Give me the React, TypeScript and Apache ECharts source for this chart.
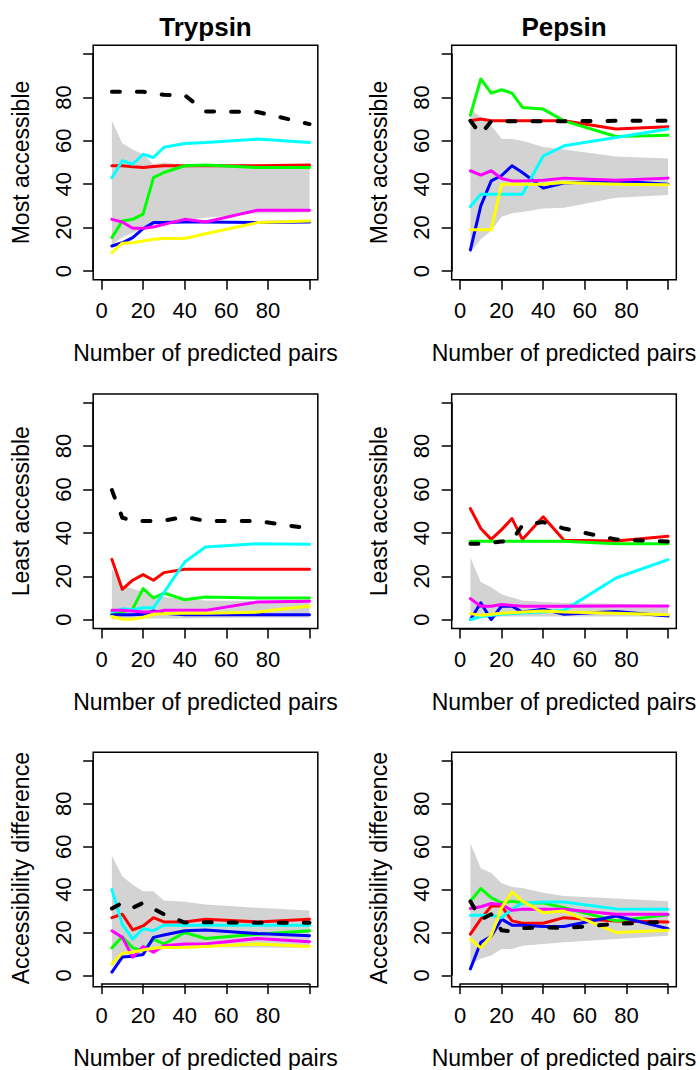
import React, { useEffect, useRef } from "react";
import * as echarts from "echarts";

// x positions (number of predicted pairs)
const X = [5, 10, 15, 20, 25, 30, 40, 50, 75, 100];
const X_TICKS = [0, 20, 40, 60, 80, 100];
const Y_TICKS = [0, 20, 40, 60, 80, 100];

// Trypsin – Most accessible
const tMostRed = [48.5, 48.5, 48, 47.7, 48.2, 48.5, 48.5, 48.5, 48.5, 48.8];
const tMostGreen = [15.4, 23, 23.8, 26.2, 43, 45.4, 48.5, 48.8, 47.7, 47.7];
const tMostBlue = [11.5, 13, 15.4, 19.5, 22.3, 22.3, 22.6, 22.6, 22.3, 22.6];
const tMostCyan = [43, 50.8, 49.2, 53.8, 52.3, 57, 58.8, 59.2, 60.8, 59.2];
const tMostMagenta = [23.8, 22.6, 19.7, 19.7, 20.3, 21.5, 23.8, 22.6, 28, 28];
const tMostYellow = [8.5, 12.8, 13, 13.8, 14.6, 15, 15, 17.2, 22.3, 23];
const tMostRandom = [82.6, 82.6, 82.6, 82.6, 82, 81.2, 81, 73.5, 73.3, 67.7];
const tMostBandHi = [69.2, 58.9, 56, 53.8, 49.2, 50, 48.8, 48.3, 48, 48];
const tMostBandLo = [12, 15.5, 17.5, 19.5, 21, 22, 23.5, 24.5, 26.5, 27];

// Pepsin – Most accessible
const pMostRed = [69.2, 70, 69.2, 69.2, 69.2, 69.2, 69.2, 69.2, 65.4, 66.5];
const pMostGreen = [71.8, 88.5, 82, 83.5, 82, 75.4, 74.6, 69.2, 62, 62.6];
const pMostBlue = [9.7, 30, 41.5, 44, 48.5, 45.4, 38.2, 40.5, 41.5, 40];
const pMostCyan = [29.7, 35.4, 35.4, 35.4, 35.4, 35.4, 53, 57.7, 61.5, 65.4];
const pMostMagenta = [46.2, 44.2, 46.2, 42.6, 41.5, 41.5, 41.8, 42.8, 41.8, 42.8];
const pMostYellow = [19, 19, 19, 40, 40, 40, 40, 40.8, 40, 39.7];
const pMostRandom = [69.2, 63, 69, 69, 69, 69, 69, 69, 69.2, 69.2];
const pMostBandHi = [74.6, 70.8, 67, 61, 60.8, 60, 57.2, 56, 52.8, 51.8];
const pMostBandLo = [8.5, 14.6, 18.5, 25, 26.6, 27.2, 28.8, 29.2, 33.8, 35];

// Trypsin – Least accessible
const tLeastRed = [27.8, 14, 18.2, 20.8, 18.2, 21.7, 23.2, 23.2, 23.2, 23.2];
const tLeastGreen = [2.5, 3.5, 5, 14.3, 10, 12.3, 9.2, 10.5, 10, 10];
const tLeastBlue = [2.3, 2.3, 2.3, 2.5, 4, 3, 2.3, 2.3, 2.3, 2.3];
const tLeastCyan = [3.5, 5, 4.6, 5.5, 5.5, 12.5, 26.6, 33.5, 35, 34.8];
const tLeastMagenta = [4.3, 4.3, 4, 3.5, 3.5, 4.3, 4.3, 4.3, 8.2, 8.5];
const tLeastYellow = [1.5, 0.2, 0.2, 1, 2.5, 2.8, 3, 3, 3.5, 6.3];
const tLeastRandom = [59.7, 47, 45.7, 45.5, 45.5, 45.7, 47.4, 45.5, 45.5, 42];
const tLeastBandHi = [23.5, 15.8, 14.3, 12.8, 11.2, 10.5, 9.7, 8.9, 8.6, 8.2];
const tLeastBandLo = [0, 0.3, 0.5, 0.5, 0.5, 0.5, 0.5, 0.8, 1, 1];

// Pepsin – Least accessible
const pLeastRed = [51.2, 42, 37, 41.5, 46.6, 37, 47.4, 36.6, 36.3, 38.5];
const pLeastGreen = [36.2, 36.2, 36.2, 36.2, 36.2, 36.2, 36.2, 36.2, 35, 35];
const pLeastBlue = [0, 7.8, 0, 6.3, 6.2, 3.5, 4.8, 2.5, 3.8, 1.7];
const pLeastCyan = [0, 1.5, 2, 2.5, 2.8, 3.1, 3.5, 4.3, 19.2, 27.7];
const pLeastMagenta = [9.7, 6.2, 6.2, 7, 6.6, 6.2, 6.2, 6.2, 6.3, 6.3];
const pLeastYellow = [2.8, 2, 2.5, 3, 3.2, 3.5, 4, 3.5, 3, 2.3];
const pLeastRandom = [35, 35, 35.5, 36, 36.5, 43.5, 45, 42, 37, 36];
const pLeastBandHi = [28.5, 17.4, 15, 11.7, 10.2, 8.9, 8.2, 7.8, 7.4, 6.6];
const pLeastBandLo = [0.5, 1, 1, 1.5, 1.5, 1.5, 1.5, 1.5, 1.5, 1.5];

// Trypsin – Accessibility difference
const tDiffRed = [26.9, 28.5, 21.2, 23, 26.9, 24.9, 24.9, 26.2, 24.9, 26.2];
const tDiffGreen = [12.8, 18, 12.8, 11.5, 16.9, 14.6, 20, 17.2, 19.2, 20.8];
const tDiffBlue = [1.5, 8.5, 8.9, 9.7, 17.7, 18.8, 20.8, 21.2, 19.5, 18.5];
const tDiffCyan = [40, 23.8, 16.9, 21.8, 20.8, 23.4, 23.4, 23.4, 23.4, 23.4];
const tDiffMagenta = [20.8, 17.7, 8.5, 13.4, 10.8, 13.8, 14.6, 14.6, 17.2, 15.7];
const tDiffYellow = [5.4, 10.3, 10.8, 11.8, 12.6, 13, 13, 13.4, 14.6, 13.5];
const tDiffRandom = [31.2, 33.8, 31.5, 33.8, 31, 28.5, 24.6, 24.8, 24.5, 24.5];
const tDiffBandHi = [55.8, 46.2, 42.3, 39.2, 39.2, 34.9, 34.3, 33, 31.5, 30.3];
const tDiffBandLo = [3.8, 9.2, 10, 10.8, 11.5, 12.3, 12.8, 13, 13, 12.8];

// Pepsin – Accessibility difference
const pDiffRed = [19.2, 26.2, 32.3, 32.3, 25.4, 24.3, 24.3, 26.9, 25.4, 24.9];
const pDiffGreen = [34.6, 40.5, 36.2, 33.8, 34.6, 33.8, 33.8, 31.5, 25.4, 28.2];
const pDiffBlue = [3, 15.4, 18.2, 26.2, 23.4, 23.4, 22.8, 22.8, 27.7, 21.8];
const pDiffCyan = [28, 28, 28, 26.9, 30.8, 33.8, 34.2, 34.2, 31, 30.8];
const pDiffMagenta = [31.2, 32, 33.5, 33, 30.3, 30.8, 30.8, 30.8, 28.5, 28.5];
const pDiffYellow = [16.9, 12.8, 18.5, 31.5, 38.9, 34.6, 29.2, 30, 20, 21];
const pDiffRandom = [34.5, 26, 28.5, 21, 20.5, 22, 22.5, 22, 24, 25];
const pDiffBandHi = [61.5, 50, 47.7, 43, 41.2, 40.8, 38.5, 37, 35.8, 34.6];
const pDiffBandLo = [5.4, 7.7, 9.2, 12.3, 12.3, 13.8, 14.6, 15.4, 16.9, 18.5];

const COLUMN_TITLES = ["Trypsin", "Pepsin"];
const X_NAME = "Number of predicted pairs";
const LINE_COLORS = ["#FF0000", "#00FF00", "#0000FF", "#00FFFF", "#FF00FF", "#FFFF00"];

const PANELS = [
  { yName: "Most accessible", lines: [tMostRed, tMostGreen, tMostBlue, tMostCyan, tMostMagenta, tMostYellow], random: tMostRandom, hi: tMostBandHi, lo: tMostBandLo },
  { yName: "Most accessible", lines: [pMostRed, pMostGreen, pMostBlue, pMostCyan, pMostMagenta, pMostYellow], random: pMostRandom, hi: pMostBandHi, lo: pMostBandLo },
  { yName: "Least accessible", lines: [tLeastRed, tLeastGreen, tLeastBlue, tLeastCyan, tLeastMagenta, tLeastYellow], random: tLeastRandom, hi: tLeastBandHi, lo: tLeastBandLo },
  { yName: "Least accessible", lines: [pLeastRed, pLeastGreen, pLeastBlue, pLeastCyan, pLeastMagenta, pLeastYellow], random: pLeastRandom, hi: pLeastBandHi, lo: pLeastBandLo },
  { yName: "Accessibility difference", lines: [tDiffRed, tDiffGreen, tDiffBlue, tDiffCyan, tDiffMagenta, tDiffYellow], random: tDiffRandom, hi: tDiffBandHi, lo: tDiffBandLo },
  { yName: "Accessibility difference", lines: [pDiffRed, pDiffGreen, pDiffBlue, pDiffCyan, pDiffMagenta, pDiffYellow], random: pDiffRandom, hi: pDiffBandHi, lo: pDiffBandLo },
];

// layout (pixels)
const COL_X0 = [101.5, 460];
const ROW_Y100 = [54, 402.7, 761];
const PLOT_W = 208;
const PLOT_H = 217;
const PAD = 0.04;
const FONT = "'Liberation Sans', Arial, Helvetica, sans-serif";

function buildOption() {
  const grid: any[] = [];
  const xAxis: any[] = [];
  const yAxis: any[] = [];
  const series: any[] = [];
  const graphic: any[] = [];
  const axisLineStyle = { color: "#000", width: 1.5 };

  PANELS.forEach((p, i) => {
    const r = Math.floor(i / 2);
    const c = i % 2;
    const left = COL_X0[c];
    const top = ROW_Y100[r];
    grid.push({ left, top, width: PLOT_W, height: PLOT_H, containLabel: false });
    xAxis.push({
      gridIndex: i,
      type: "value",
      min: X_TICKS[0],
      max: X_TICKS[X_TICKS.length - 1],
      interval: 20,
      offset: PAD * PLOT_H,
      axisLine: { show: true, onZero: false, lineStyle: axisLineStyle },
      axisTick: { show: true, length: 10, lineStyle: axisLineStyle },
      axisLabel: {
        show: true,
        showMinLabel: true,
        showMaxLabel: true,
        margin: 20,
        fontSize: 22,
        fontFamily: FONT,
        color: "#000",
        formatter: (v: number) => (v === 100 ? "" : String(v)),
      },
      splitLine: { show: false },
      name: X_NAME,
      nameLocation: "middle",
      nameGap: 62,
      nameTextStyle: { fontSize: 23, fontFamily: FONT, color: "#000" },
    });
    yAxis.push({
      gridIndex: i,
      type: "value",
      min: Y_TICKS[0],
      max: Y_TICKS[Y_TICKS.length - 1],
      interval: 20,
      offset: PAD * PLOT_W,
      axisLine: { show: true, onZero: false, lineStyle: axisLineStyle },
      axisTick: { show: true, length: 10, lineStyle: axisLineStyle },
      axisLabel: {
        show: true,
        showMinLabel: true,
        showMaxLabel: true,
        rotate: 90,
        margin: 19,
        fontSize: 22,
        fontFamily: FONT,
        color: "#000",
        formatter: (v: number) => (v === 100 ? "" : String(v)),
      },
      splitLine: { show: false },
      name: p.yName,
      nameLocation: "middle",
      nameRotate: 90,
      nameGap: 61,
      nameTextStyle: { fontSize: 23, fontFamily: FONT, color: "#000" },
    });

    // grey band
    series.push({
      type: "custom",
      xAxisIndex: i,
      yAxisIndex: i,
      silent: true,
      clip: true,
      z: 1,
      data: [[X[0], p.lo[0]]],
      renderItem: (_params: any, api: any) => {
        const pts: number[][] = [];
        for (let k = 0; k < X.length; k++) pts.push(api.coord([X[k], p.hi[k]]));
        for (let k = X.length - 1; k >= 0; k--) pts.push(api.coord([X[k], p.lo[k]]));
        return { type: "polygon", shape: { points: pts }, style: { fill: "#D3D3D3", stroke: "none" } };
      },
    });

    p.lines.forEach((vals, k) => {
      series.push({
        type: "line",
        xAxisIndex: i,
        yAxisIndex: i,
        data: X.map((x, j) => [x, vals[j]]),
        symbol: "none",
        silent: true,
        z: 2 + k,
        lineStyle: { color: LINE_COLORS[k], width: 3, cap: "round", join: "round" },
      });
    });

    series.push({
      type: "line",
      xAxisIndex: i,
      yAxisIndex: i,
      data: X.map((x, j) => [x, p.random[j]]),
      symbol: "none",
      silent: true,
      z: 10,
      lineStyle: { color: "#000", width: 4, type: [8, 17], cap: "round", join: "round" },
    });

    // plot frame (box)
    graphic.push({
      type: "rect",
      silent: true,
      z: 100,
      shape: {
        x: left - PAD * PLOT_W,
        y: top - PAD * PLOT_H,
        width: PLOT_W * (1 + 2 * PAD),
        height: PLOT_H * (1 + 2 * PAD),
      },
      style: { fill: "none", stroke: "#000", lineWidth: 1.5 },
    });
  });

  COLUMN_TITLES.forEach((t, c) => {
    graphic.push({
      type: "text",
      silent: true,
      x: COL_X0[c] + PLOT_W / 2,
      y: 27,
      style: {
        text: t,
        fill: "#000",
        font: `bold 26px ${FONT}`,
        textAlign: "center",
        textVerticalAlign: "middle",
      },
    });
  });

  return {
    animation: false,
    backgroundColor: "#ffffff",
    grid,
    xAxis,
    yAxis,
    series,
    graphic,
  };
}

export default function App() {
  const ref = useRef<HTMLDivElement>(null);
  useEffect(() => {
    if (!ref.current) return;
    const chart = echarts.init(ref.current, undefined, { renderer: "svg" });
    chart.setOption(buildOption() as any);
    return () => chart.dispose();
  }, []);
  return (
    <div
      ref={ref}
      style={{ position: "absolute", left: 0, top: 0, width: 700, height: 1070, background: "#fff" }}
    />
  );
}
